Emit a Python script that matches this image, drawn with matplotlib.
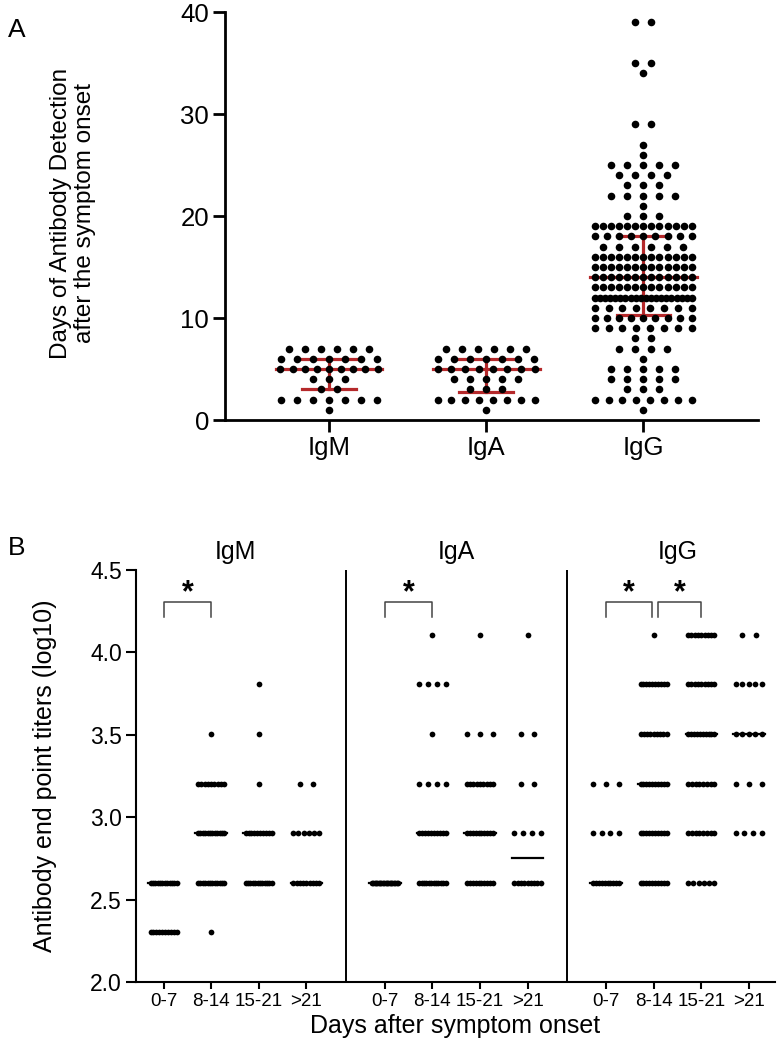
import numpy as np
import matplotlib
matplotlib.use("Agg")
from matplotlib import pyplot as plt
import matplotlib.transforms as mtransforms

plt.rcParams['font.family'] = ['Liberation Sans', 'DejaVu Sans']

# ---- panel A data: number of patients per detection day ----
a_groups = ['IgM', 'IgA', 'IgG']
igm_days = [1, 2, 3, 4, 5, 6, 7]
igm_counts = [1, 7, 2, 3, 9, 7, 6]
iga_days = [1, 2, 3, 4, 5, 6, 7]
iga_counts = [1, 8, 3, 5, 8, 7, 6]
igg_days = [1, 2, 3, 4, 5, 6, 7, 8, 9, 10, 11, 12, 13, 14, 15, 16, 17, 18, 19,
            20, 21, 22, 23, 24, 25, 26, 27, 29, 34, 35, 39]
igg_counts = [1, 8, 3, 5, 5, 1, 4, 2, 8, 9, 8, 20, 13, 13, 13, 13, 6, 9, 13,
              3, 1, 5, 3, 4, 5, 1, 1, 2, 1, 2, 2]

# ---- panel B data: patients per titer level (log10 of 200..12800) ----
titer_levels = np.log10([200, 400, 800, 1600, 3200, 6400, 12800])
b_groups = ['IgM', 'IgA', 'IgG']
b_windows = ['0-7', '8-14', '15-21', '>21']
igm_titer_counts = [[10, 12, 0, 0, 0, 0, 0],
                    [1, 12, 12, 9, 1, 0, 0],
                    [0, 12, 10, 1, 1, 1, 0],
                    [0, 9, 6, 2, 0, 0, 0]]
iga_titer_counts = [[0, 20, 0, 0, 0, 0, 0],
                    [0, 12, 10, 4, 1, 4, 1],
                    [0, 10, 10, 9, 3, 0, 1],
                    [0, 9, 4, 2, 2, 0, 1]]
igg_titer_counts = [[0, 10, 4, 3, 0, 0, 0],
                    [0, 10, 10, 10, 9, 10, 1],
                    [0, 6, 8, 8, 10, 9, 9],
                    [0, 0, 4, 3, 5, 5, 2]]
# significant pairs (group index, window a, window b)
sig_pairs = [(0, 0, 1), (1, 0, 1), (2, 0, 1), (2, 1, 2)]

RED = '#b5292b'


def row_offsets(n, base, maxspan):
    if n <= 1:
        return np.zeros(n)
    span = min(base * (n - 1), maxspan)
    return np.linspace(-span / 2, span / 2, n)


fig = plt.figure(figsize=(7.8, 10.57), dpi=100)

'''
    Panel A
'''
axA = fig.add_axes([225 / 780, 1 - 420 / 1057, 533 / 780, 408 / 1057])
a_days = [igm_days, iga_days, igg_days]
a_counts = [igm_counts, iga_counts, igg_counts]
for gi, (days, counts) in enumerate(zip(a_days, a_counts)):
    xs, ys = [], []
    for d, c in zip(days, counts):
        off = row_offsets(c, 0.102, 0.618)
        xs.extend(gi + off)
        ys.extend([d] * c)
    axA.scatter(xs, ys, s=30, color='black', linewidths=0, zorder=3)
    values = np.repeat(days, counts)
    q1, med, q3 = np.percentile(values, [25, 50, 75], method='weibull')
    axA.plot([gi - 0.34, gi + 0.34], [med, med], color=RED, lw=2.3, zorder=2)
    for q in (q1, q3):
        axA.plot([gi - 0.17, gi + 0.17], [q, q], color=RED, lw=2.3, zorder=2)
    axA.plot([gi, gi], [q1, q3], color=RED, lw=2.3, zorder=2)

axA.set_xlim(-0.662, 2.73)
axA.set_ylim(0, 40)
axA.set_yticks([0, 10, 20, 30, 40])
axA.set_xticks(range(3))
axA.set_xticklabels(a_groups)
axA.spines['top'].set_visible(False)
axA.spines['right'].set_visible(False)
for s in ('left', 'bottom'):
    axA.spines[s].set_linewidth(2.0)
axA.tick_params(axis='both', length=8.5, width=2.0, labelsize=18.5, pad=3)
fig.text(73 / 780, 1 - 213 / 1057,
         'Days of Antibody Detection\nafter the symptom onset',
         rotation=90, ha='center', va='center', fontsize=17.5, linespacing=1.15)
fig.text(8 / 780, 1 - 30 / 1057, 'A', fontsize=19, ha='left', va='center')

'''
    Panel B
'''
axB = fig.add_axes([136 / 780, 1 - 982 / 1057, 639 / 780, 412 / 1057])
GROUP_STEP = 4.65
b_counts = [igm_titer_counts, iga_titer_counts, igg_titer_counts]
positions = []
for gi, group in enumerate(b_counts):
    for wi, col in enumerate(group):
        x0 = gi * GROUP_STEP + wi
        positions.append(x0)
        xs, ys = [], []
        for lvl, c in zip(titer_levels, col):
            off = row_offsets(c, 0.283, 0.55)
            xs.extend(x0 + off)
            ys.extend([lvl] * c)
        axB.scatter(xs, ys, s=17, color='black', linewidths=0, zorder=3)
        med = np.median(np.repeat(titer_levels, col))
        axB.plot([x0 - 0.33, x0 + 0.33], [med, med], color='black', lw=1.6, zorder=2)

for gi in range(1, 3):
    sep = gi * GROUP_STEP - (GROUP_STEP - 3) / 2
    axB.axvline(sep, color='black', lw=1.4)

trans = mtransforms.blended_transform_factory(axB.transData, axB.transAxes)
for gi, name in enumerate(b_groups):
    axB.text(gi * GROUP_STEP + 1.5, 1.043, name, transform=trans,
             ha='center', va='center', fontsize=18)

for gi, wa, wb in sig_pairs:
    xa = gi * GROUP_STEP + wa
    xb = gi * GROUP_STEP + wb
    if gi == 2 and wa == 0:
        xb -= 0.03
    if gi == 2 and wa == 1:
        xa += 0.1
    axB.plot([xa, xa, xb, xb], [4.215, 4.306, 4.306, 4.215], color='#444444', lw=1.1)
    axB.text((xa + xb) / 2, 4.36, '*', ha='center', va='center',
             fontsize=22, fontweight='bold')

axB.set_xlim(-0.58, 12.85)
axB.set_ylim(2.0, 4.5)
axB.set_yticks([2.0, 2.5, 3.0, 3.5, 4.0, 4.5])
axB.set_yticklabels(['2.0', '2.5', '3.0', '3.5', '4.0', '4.5'])
axB.set_xticks(positions)
axB.set_xticklabels(b_windows * 3)
axB.spines['top'].set_visible(False)
axB.spines['right'].set_visible(False)
for s in ('left', 'bottom'):
    axB.spines[s].set_linewidth(1.5)
axB.tick_params(axis='y', length=7, width=1.5, labelsize=16.5, pad=3)
axB.tick_params(axis='x', length=5, width=1.5, labelsize=13.5, pad=3)
axB.set_xlabel('Days after symptom onset', fontsize=18, labelpad=3)
fig.text(45 / 780, 1 - 776 / 1057, 'Antibody end point titers (log10)',
         rotation=90, ha='center', va='center', fontsize=18)
fig.text(8 / 780, 1 - 548 / 1057, 'B', fontsize=19, ha='left', va='center')

fig.savefig('out.png', dpi=100)
